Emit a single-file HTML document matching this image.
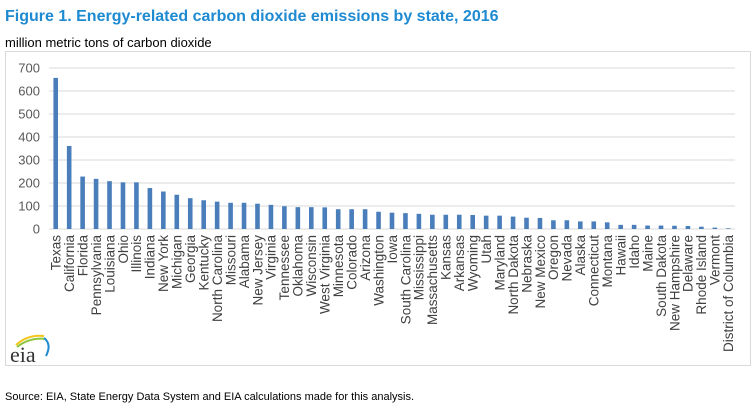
<!DOCTYPE html>
<html><head><meta charset="utf-8"><style>
body{margin:0;background:#fff;width:753px;height:405px;overflow:hidden;font-family:"Liberation Sans",Arial,sans-serif}
</style></head><body>
<svg width="753" height="405" viewBox="0 0 753 405">
<text x="5" y="21" font-size="16" font-weight="bold" fill="#1e8ad2">Figure 1. Energy-related carbon dioxide emissions by state, 2016</text>
<text x="5" y="47" font-size="13" fill="#000">million  metric tons of carbon  dioxide</text>
<rect x="5.5" y="51.5" width="745" height="314" fill="none" stroke="#d9d9d9"/>
<g id="grid"></g><g id="bars"></g><g id="labels"></g>
<g>
<path d="M16 345 Q28 334 44 336" stroke="#f2c51b" stroke-width="2" fill="none"/>
<path d="M17 347 Q30 337 46 339" stroke="#8dc63f" stroke-width="2" fill="none"/>
<path d="M44 338 Q52 344 46 356" stroke="#1e8ad2" stroke-width="2" fill="none"/>
<text x="10" y="362" font-family="Liberation Serif,serif" font-size="22" fill="#333">eia</text>
</g>
<text x="5" y="400" font-size="11" fill="#000">Source:  EIA, State Energy Data System and EIA calculations made for this analysis.</text>
</svg>
<script>
const categories=["Texas","California","Florida","Pennsylvania","Louisiana","Ohio","Illinois","Indiana","New York","Michigan","Georgia","Kentucky","North Carolina","Missouri","Alabama","New Jersey","Virginia","Tennessee","Oklahoma","Wisconsin","West Virginia","Minnesota","Colorado","Arizona","Washington","Iowa","South Carolina","Mississippi","Massachusetts","Kansas","Arkansas","Wyoming","Utah","Maryland","North Dakota","Nebraska","New Mexico","Oregon","Nevada","Alaska","Connecticut","Montana","Hawaii","Idaho","Maine","South Dakota","New Hampshire","Delaware","Rhode Island","Vermont","District of Columbia"];
const values=[657,361,228,218,208,203,203,178,163,149,134,125,119,114,114,110,105,99,95,95,94,86,86,86,75,71,69,66,62,62,62,61,58,58,54,49,48,38,38,33,33,29,18,18,15,15,14,13,10,6,3];
const ticks=[0,100,200,300,400,500,600,700];
const NS="http://www.w3.org/2000/svg";
const x0=49,x1=735,y0=229,yTop=68,maxV=700;
const yS=v=>y0-(v/maxV)*(y0-yTop);
const bw=(x1-x0)/categories.length;
const xC=i=>x0+bw*(i+0.5);
const g=document.getElementById('grid'),b=document.getElementById('bars'),l=document.getElementById('labels');
ticks.forEach(t=>{
 const ln=document.createElementNS(NS,'line');
 ln.setAttribute('x1',x0);ln.setAttribute('x2',x1);ln.setAttribute('y1',yS(t));ln.setAttribute('y2',yS(t));
 ln.setAttribute('stroke','#d9d9d9');
 
 
 g.appendChild(ln);
 const tx=document.createElementNS(NS,'text');
 tx.setAttribute('x',40);tx.setAttribute('y',yS(t)+4.5);tx.setAttribute('text-anchor','end');
 tx.setAttribute('font-size','13');tx.setAttribute('fill','#595959');tx.textContent=t;
 
 
 g.appendChild(tx);
});
categories.forEach((c,i)=>{
 const r=document.createElementNS(NS,'rect');
 const h=y0-yS(values[i]);
 r.setAttribute('x',xC(i)-2.3);r.setAttribute('width',4.6);r.setAttribute('y',y0-h);r.setAttribute('height',h);
 r.setAttribute('fill','#4a7ebb');
 
 
 b.appendChild(r);
 const t=document.createElementNS(NS,'text');
 const x=xC(i)+4.8,y=235;
 t.setAttribute('x',x);t.setAttribute('y',y);t.setAttribute('text-anchor','end');
 t.setAttribute('transform','rotate(-90 '+x+' '+y+')');
 t.setAttribute('font-size','13.5');t.setAttribute('fill','#404040');t.textContent=c;
 
 
 l.appendChild(t);
});
</script>
</body></html>
